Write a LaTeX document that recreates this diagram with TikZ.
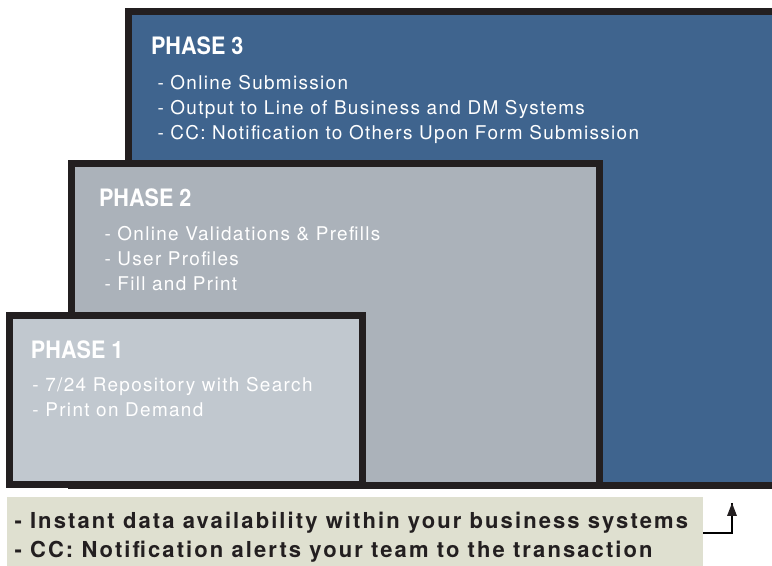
\documentclass[tikz,border=0pt]{standalone}
\usepackage{fontspec}
\usepackage{tikz}
\setmainfont{TeX Gyre Heros}
\newfontfamily\phasefont[FakeStretch=0.9]{TeX Gyre Heros}
\newfontfamily\itemfont[LetterSpace=7]{TeX Gyre Heros}
\newfontfamily\notefont[LetterSpace=9.5]{TeX Gyre Heros}
\tikzset{every picture/.style={line width=0.75pt}}
\tikzset{
  phasebox/.style={draw={rgb, 255:red, 35; green, 31; blue, 32}, line width=5.25pt},
  phasetitle/.style={anchor=base west, inner sep=0pt, text=white, font=\phasefont\bfseries\fontsize{18}{20}\selectfont},
  phaseitem/.style={anchor=base west, inner sep=0pt, text=white, font=\itemfont\fontsize{14.2}{16}\selectfont},
  noteitem/.style={anchor=base west, inner sep=0pt, text={rgb, 255:red, 35; green, 31; blue, 32}, font=\notefont\bfseries\fontsize{16.5}{18}\selectfont}
}

\begin{document}
\begin{tikzpicture}[x=0.75pt,y=0.75pt,yscale=-1,xscale=1]
\useasboundingbox (0,0) rectangle (772,566);

%Shape: Rectangle [phase 3]
\draw [phasebox, fill={rgb, 255:red, 63; green, 100; blue, 142 }] (128.5,11.5) rectangle (795,485.5) ;
%Shape: Rectangle [phase 2]
\draw [phasebox, fill={rgb, 255:red, 171; green, 178; blue, 186 }] (71.5,163.5) rectangle (599.5,485.5) ;
%Shape: Rectangle [phase 1]
\draw [phasebox, fill={rgb, 255:red, 193; green, 200; blue, 207 }] (9.5,315.5) rectangle (362.5,485) ;
%Shape: Rectangle [note]
\draw [draw opacity=0, fill={rgb, 255:red, 223; green, 224; blue, 208 }] (7,497) rectangle (703,566) ;

%Straight Lines [note arrow]
\coordinate (noteR) at (703,533) ;
\coordinate (tipA) at (732,503) ;
\draw [line width=1.5]  (noteR) -| (tipA) ;
\draw [shift={(tipA)}, rotate = 90] [fill={rgb, 255:red, 35; green, 31; blue, 32 }  ][line width=0.08]  [draw opacity=0] (13,-5) -- (0,0) -- (13,5) -- cycle    ;

% Text Node
\draw (150.5,55) node [phasetitle] (p3title) {PHASE 3};
% Text Node
\draw (157,90) node [phaseitem] (p3a) {- Online Submission};
% Text Node
\draw (157,115) node [phaseitem] (p3b) {- Output to Line of Business and DM Systems};
% Text Node
\draw (157,140) node [phaseitem] (p3c) {- CC: Notification to Others Upon Form Submission};
% Text Node
\draw (98.5,207) node [phasetitle] (p2title) {PHASE 2};
% Text Node
\draw (104,241) node [phaseitem] (p2a) {- Online Validations \& Prefills};
% Text Node
\draw (104,266) node [phaseitem] (p2b) {- User Profiles};
% Text Node
\draw (104,291) node [phaseitem] (p2c) {- Fill and Print};
% Text Node
\draw (30.5,359) node [phasetitle] (p1title) {PHASE 1};
% Text Node
\draw (32,392) node [phaseitem] (p1a) {- 7/24 Repository with Search};
% Text Node
\draw (32,417) node [phaseitem] (p1b) {- Print on Demand};
% Text Node
\draw (14,529) node [noteitem] (n1) {- Instant data availability within your business systems};
% Text Node
\draw (14,558) node [noteitem] (n2) {- CC: Notification alerts your team to the transaction};

\end{tikzpicture}
\end{document}
